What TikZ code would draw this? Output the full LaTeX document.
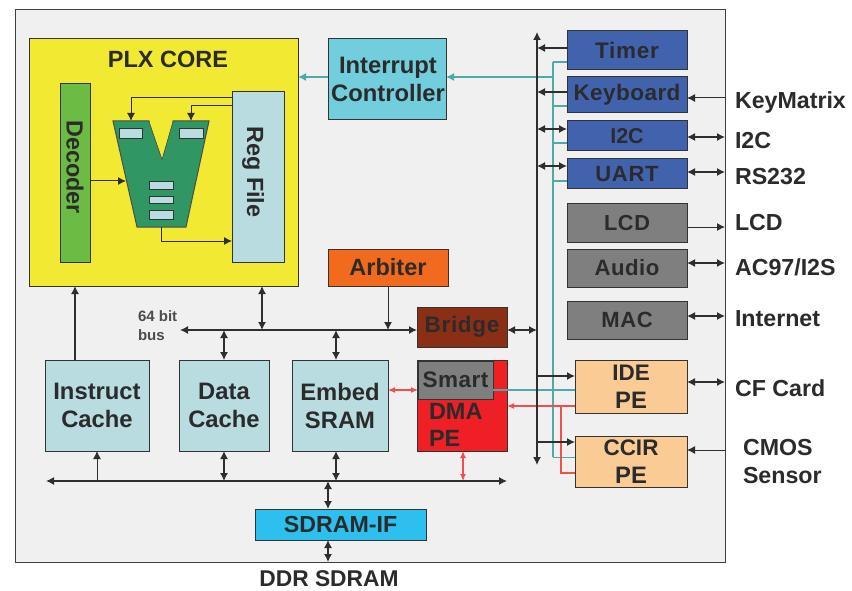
\documentclass[tikz,border=0pt]{standalone}
\usepackage{fontspec}
\setmainfont{Liberation Sans}
\usetikzlibrary{arrows.meta}
\definecolor{ink}{HTML}{2B2B2B}
\definecolor{teal1}{HTML}{4FA9A9}
\definecolor{red1}{HTML}{F0504A}
\newcommand{\bx}[7][]{%
 \pgfmathsetmacro{\bxcx}{(#3+#5)/2}\pgfmathsetmacro{\bxcy}{(#4+#6)/2}%
 \pgfmathsetmacro{\bxw}{#5-#3}\pgfmathsetmacro{\bxh}{#6-#4}%
 \node[blk,minimum width=\bxw pt,minimum height=\bxh pt,#1] (#2) at (\bxcx,\bxcy) {#7};}
\definecolor{lightb}{HTML}{B9DCE1}
\definecolor{blue1}{HTML}{4163AE}
\definecolor{gray1}{HTML}{7F7F7F}
\definecolor{orange1}{HTML}{FBCB96}
\definecolor{panel}{HTML}{F0F0F0}
\definecolor{yellow1}{HTML}{F2E933}
\definecolor{green1}{HTML}{6CBB45}
\definecolor{green2}{HTML}{309664}
\definecolor{cyan1}{HTML}{72CEDC}
\definecolor{orange2}{HTML}{F26A1E}
\definecolor{brown1}{HTML}{8B2E16}
\definecolor{redbox}{HTML}{EE1F25}
\definecolor{sky1}{HTML}{2DC0EE}
\tikzset{
 blk/.style={draw=black!80,line width=1pt,inner sep=0pt,outer sep=0pt,text=ink,align=center,font=\fontsize{23.8}{28}\selectfont\bfseries},
 lbl/.style={inner sep=0pt,outer sep=0pt,text=ink,align=left,anchor=west,font=\fontsize{23.2}{28}\selectfont\bfseries},
 wire/.style={draw=black!82,line width=1.3pt,>={Latex[length=8pt,width=8pt]}},
 twire/.style={draw=teal1,line width=1.4pt,>={Latex[length=8pt,width=8pt]}},
 rwire/.style={draw=red1,line width=1.2pt,>={Latex[length=7pt,width=6pt]}},
 mini/.style={fill=lightb,line width=.8pt},
 vtxt/.style={rotate=-90,text=ink,inner sep=0pt,font=\fontsize{23.4}{26}\selectfont\bfseries}
}
\begin{document}
\begin{tikzpicture}[x=1pt,y=-1pt]
\useasboundingbox (0,0) rectangle (852,591);
\fill[white] (0,0) rectangle (852,591);
% frame
\node[draw=black!75,line width=1pt,fill=panel,minimum width=710pt,minimum height=552pt,inner sep=0pt,outer sep=0pt] (soc) at (370,286) {};
% bus coordinates
\coordinate (busWestA) at (180,330);
\coordinate (busWestB) at (46,481);
\coordinate (busEastB) at (507,481);
\coordinate (vbusTop) at (537,32);
\coordinate (vbusBot) at (537,465);
\coordinate (tealTop) at (553,62);
\coordinate (tealBot) at (553,457);
\coordinate (redBranch) at (561,406);
% boxes
\bx[fill=yellow1]{core}{29}{39}{298}{286}{}
\bx[fill=green1]{dec}{60}{84}{90}{262}{}
\bx[fill=lightb]{reg}{232}{92}{284}{262}{}
\node[vtxt] (dectxt) at (75,167) {Decoder};
\node[vtxt] (regtxt) at (253,172) {Reg File};
\node[text=ink,inner sep=0pt,font=\fontsize{23.5}{26}\selectfont\bfseries] (coretxt) at (168,59) {PLX CORE};
\coordinate (tTL) at (113,121); \coordinate (tTR) at (209,121);
\coordinate (tBR) at (186,227); \coordinate (tBL) at (137,227);
\coordinate (tW) at (126,181); \coordinate (tB) at (161,227);
\coordinate (tIL) at (131,121); \coordinate (tIR) at (191,121);
\draw[draw=black!70,line width=1pt,fill=green2] (tTL) -- (149,121) -- (162,159) -- (173,121) -- (tTR) -- (tBR) -- (tBL) -- cycle;
\fill[yellow1] (149.5,121.6) -- (162,158) -- (172.5,121.6) -- cycle;
\bx[mini]{m1}{119}{128}{142}{138}{}
\bx[mini]{m2}{179}{128}{203}{138}{}
\bx[mini]{m3}{149}{181}{173}{189}{}
\bx[mini]{m4}{149}{196}{173}{203}{}
\bx[mini]{m5}{149}{210}{173}{219}{}
\draw[wire,->,line width=1pt] (reg.west |- 0,98) -| (tIL);
\draw[wire,->,line width=1pt] (reg.west |- 0,106) -| (tIR);
\draw[wire,->,line width=1pt] (dec.east |- tW) -- (tW);
\draw[wire,->,line width=1pt] (tB) |- (reg.west |- 0,241);

\bx[fill=cyan1]{irq}{328}{39}{446}{120}{\hspace*{2pt}Interrupt\\\hspace*{2pt}Controller}
\bx[fill=orange2]{arb}{328}{249}{448}{286}{\fontsize{23.5}{26}\selectfont Arbiter}
\bx[fill=brown1]{bridge}{417}{307}{507}{347}{\fontsize{22.5}{26}\selectfont\addfontfeature{LetterSpace=3}Bridge}
\bx[fill=redbox]{dma}{417}{360}{507}{451}{}
\bx[fill=gray1]{smart}{418}{361}{493}{399}{\fontsize{22.5}{26}\selectfont\addfontfeature{LetterSpace=2}Smart}
\node[lbl,font=\fontsize{23.5}{27.5}\selectfont\bfseries] (dmatxt) at (429,425) {DMA\\PE};
\bx[fill=lightb]{icache}{45}{360}{149}{451}{Instruct\\Cache}
\bx[fill=lightb]{dcache}{179}{360}{269}{451}{Data\\Cache}
\bx[fill=lightb]{sram}{292}{360}{388}{451}{Embed\\SRAM}
\bx[fill=sky1]{sdram}{255}{509}{426}{540}{\fontsize{23.2}{26}\selectfont SDRAM-IF}
\bx[fill=blue1]{timer}{567}{31}{687}{70}{\fontsize{22.5}{26}\selectfont\addfontfeature{LetterSpace=3}Timer}
\bx[fill=blue1]{kbd}{567}{77}{687}{113}{\fontsize{22.5}{26}\selectfont\addfontfeature{LetterSpace=2}Keyboard}
\bx[fill=blue1]{i2c}{567}{121}{687}{151}{\fontsize{21.5}{26}\selectfont I2C}
\bx[fill=blue1]{uart}{567}{159}{687}{189}{\fontsize{22}{26}\selectfont\addfontfeature{LetterSpace=3}UART}
\bx[fill=gray1]{lcd}{567}{204}{687}{242}{\fontsize{21.7}{26}\selectfont\addfontfeature{LetterSpace=3}LCD}
\bx[fill=gray1]{audio}{567}{249}{687}{287}{\fontsize{22.2}{26}\selectfont\addfontfeature{LetterSpace=2}Audio}
\bx[fill=gray1]{mac}{567}{301}{687}{339}{\fontsize{22}{26}\selectfont\addfontfeature{LetterSpace=3}MAC}
\bx[fill=orange1]{ide}{575}{360}{687}{413}{\fontsize{22.5}{28}\selectfont IDE\\PE}
\bx[fill=orange1]{ccir}{575}{436}{687}{487}{\fontsize{22.5}{28}\selectfont CCIR\\PE}
% teal
\draw[twire] (tealTop) -- (tealBot);
\draw[twire] (timer.west |- tealTop) -- (tealTop);
\draw[twire] (kbd.west |- 0,106) -- (553,106);
\draw[twire] (i2c.west |- 0,143) -- (553,143);
\draw[twire] (uart.west |- 0,181) -- (553,181);
\draw[twire,line width=.8pt] (ccir.west |- tealBot) -- (tealBot);
\draw[twire,->] (553,77) -- (irq.east |- 0,77);
\draw[twire,->] (irq.west |- 0,77) -- (core.east |- 0,77);
\draw[twire] (smart.east |- 0,390) -- (ide.west |- 0,390);
% red
\draw[rwire,->] (ide.west |- redBranch) -- (dma.east |- redBranch);
\draw[rwire] (redBranch) |- (ccir.west |- 0,473);
\draw[rwire,<->] (sram.east |- 0,390) -- (smart.west |- 0,390);
\draw[rwire,<->] (463,0 |- dma.south) -- (463,0 |- busEastB);
% vertical bus
\draw[wire,<->] (vbusTop) -- (vbusBot);
\draw[wire,->] (timer.west |- 0,48) -- (537,48);
\draw[wire,->] (kbd.west |- 0,92) -- (537,92);
\draw[wire,<->] (i2c.west |- 0,129) -- (537,129);
\draw[wire,<->] (uart.west |- 0,166) -- (537,166);
\draw[wire,<->] (bridge.east |- 0,330) -- (537,330);
\draw[wire,->] (537,376) -- (ide.west |- 0,376);
\draw[wire,->] (537,442) -- (ccir.west |- 0,442);
% buses
\draw[wire,<->] (busWestA) -- (bridge.west |- busWestA);
\draw[wire,<->] (busWestB) -- (busEastB);
\draw[wire,->] (75,0 |- icache.north) -- (75,0 |- core.south);
\draw[wire,<->] (262,0 |- core.south) -- (262,330);
\draw[wire,->,line width=1pt] (388,0 |- arb.south) -- (388,330);
\draw[wire,<->] (dcache.north) -- (dcache.north |- busWestA);
\draw[wire,<->] (336,0 |- sram.north) -- (336,330);
\draw[wire,->,line width=1pt] (97,481) -- (97,0 |- icache.south);
\draw[wire,<->] (dcache.south) -- (dcache.south |- busWestB);
\draw[wire,<->] (336,0 |- sram.south) -- (336,481);
\draw[wire,<->] (328,481) -- (328,0 |- sdram.north);
\draw[wire,<->] (328,0 |- sdram.south) -- (328,0 |- soc.south);
% right
\draw[wire,->,line width=1pt] (soc.east |- 0,98) -- (kbd.east |- 0,98);
\draw[wire,<->] (i2c.east |- 0,137) -- (soc.east |- 0,137);
\draw[wire,<->] (uart.east |- 0,172) -- (soc.east |- 0,172);
\draw[wire,->,line width=1pt] (lcd.east |- 0,227) -- (soc.east |- 0,227);
\draw[wire,<->] (audio.east |- 0,263) -- (soc.east |- 0,263);
\draw[wire,<->] (mac.east |- 0,316) -- (soc.east |- 0,316);
\draw[wire,<->] (ide.east |- 0,382) -- (soc.east |- 0,382);
\draw[wire,->,line width=1pt] (soc.east |- 0,450) -- (ccir.east |- 0,450);
% labels
\node[lbl] (t1) at (735,103) {KeyMatrix};
\node[lbl] (t2) at (735,141) {I2C};
\node[lbl] (t3) at (735,177) {RS232};
\node[lbl] (t4) at (735,223) {LCD};
\node[lbl] (t5) at (735,267) {AC97/I2S};
\node[lbl] (t6) at (735,319) {Internet};
\node[lbl] (t7) at (735,388) {CF Card};
\node[lbl] (t8) at (743,462) {CMOS\\Sensor};
\node[text=ink,inner sep=0pt,font=\fontsize{22.8}{26}\selectfont\bfseries] (t9) at (329,579) {DDR SDRAM};
\node[lbl,font=\fontsize{15}{19}\selectfont\bfseries,text=black!70] (t10) at (138,325.5) {64 bit\\bus};
\end{tikzpicture}
\end{document}
